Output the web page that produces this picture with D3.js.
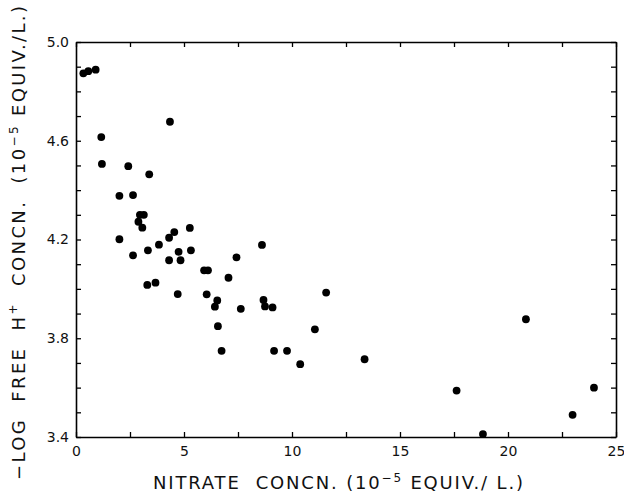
<!DOCTYPE html>
<html>
<head>
<meta charset="utf-8">
<script src="https://cdn.jsdelivr.net/npm/d3@7"></script>
<style>
    body { margin: 0; background: #fff; }
    svg { display: block; }
    .lbl { white-space: pre; }
</style>
</head>
<body>
<div id="chart"></div>
<script>
'use strict';

// nitrate concentration (10^-5 equiv/L)
const nitrate = [
    0.34, 0.57, 0.91, 1.17, 1.20, 4.35, 2.42, 3.39, 2.01, 2.64,
    2.96, 3.14, 2.89, 3.07, 2.01, 2.64, 3.33, 3.84, 4.31, 4.55,
    5.27, 4.75, 5.32, 4.31, 4.84, 5.93, 6.11, 7.06, 3.30, 3.68,
    4.71, 6.05, 6.54, 6.43, 7.63, 8.61, 7.43, 8.68, 8.75, 9.10,
    11.58, 6.57, 11.06, 6.74, 9.17, 9.77, 10.38, 13.36, 17.62, 18.84,
    20.83, 22.99, 23.98
];

// -log free H+ concentration
const negLogH = [
    4.873, 4.882, 4.888, 4.615, 4.506, 4.677, 4.497, 4.464, 4.377, 4.380,
    4.300, 4.300, 4.272, 4.248, 4.201, 4.136, 4.156, 4.179, 4.207, 4.230,
    4.247, 4.150, 4.156, 4.116, 4.116, 4.075, 4.075, 4.045, 4.016, 4.025,
    3.979, 3.978, 3.953, 3.928, 3.919, 4.178, 4.128, 3.955, 3.929, 3.925,
    3.985, 3.849, 3.836, 3.749, 3.749, 3.749, 3.695, 3.715, 3.588, 3.412,
    3.877, 3.490, 3.600
];

const xTicks = [0, 2.5, 5, 7.5, 10, 12.5, 15, 17.5, 20, 22.5, 25];
const xTickLabels = ["0", "", "5", "", "10", "", "15", "", "20", "", "25"];
const yTicks = [3.4, 3.5, 3.6, 3.7, 3.8, 3.9, 4.0, 4.1, 4.2, 4.3, 4.4, 4.5, 4.6, 4.7, 4.8, 4.9, 5.0];
const yTickLabels = ["3.4", "", "", "", "3.8", "", "", "", "4.2", "", "", "", "4.6", "", "", "", "5.0"];

const width = 624;
const height = 494;
const margin = { top: 42, right: 8, bottom: 57, left: 76 };
const fontFamily = "'DejaVu Sans', 'Liberation Sans', sans-serif";

const points = nitrate.map((x, i) => ({ x: x, y: negLogH[i] }));

const xScale = d3.scaleLinear().domain([0, 25]).range([margin.left, width - margin.right]);
const yScale = d3.scaleLinear().domain([3.4, 5.0]).range([height - margin.bottom, margin.top]);

const svg = d3.select("#chart")
    .append("svg")
    .attr("viewBox", [0, 0, width, height])
    .attr("width", width)
    .attr("height", height);

function styleAxis(g) {
    g.select(".domain").attr("stroke-width", 1.6);
    g.selectAll(".tick line").attr("stroke-width", 1.3);
    g.selectAll(".tick text")
        .attr("fill", "#111")
        .style("font-family", fontFamily)
        .style("font-size", "14px");
}

// ticks point inward on all four sides
svg.append("g")
    .attr("transform", `translate(0, ${yScale(3.4)})`)
    .call(d3.axisBottom(xScale).tickValues(xTicks).tickSizeInner(-5).tickSizeOuter(0).tickPadding(9)
        .tickFormat((d, i) => xTickLabels[i]))
    .call(styleAxis);

svg.append("g")
    .attr("transform", `translate(0, ${yScale(5.0)})`)
    .call(d3.axisTop(xScale).tickValues(xTicks).tickSizeInner(-5).tickSizeOuter(0).tickFormat(""))
    .call(styleAxis);

svg.append("g")
    .attr("transform", `translate(${xScale(0)}, 0)`)
    .call(d3.axisLeft(yScale).tickValues(yTicks).tickSizeInner(-5).tickSizeOuter(0).tickPadding(7)
        .tickFormat((d, i) => yTickLabels[i]))
    .call(styleAxis);

svg.append("g")
    .attr("transform", `translate(${xScale(25)}, 0)`)
    .call(d3.axisRight(yScale).tickValues(yTicks).tickSizeInner(-5).tickSizeOuter(0).tickFormat(""))
    .call(styleAxis);

svg.append("g")
    .attr("fill", "#000")
    .selectAll("circle")
    .data(points)
    .join("circle")
        .attr("cx", d => xScale(d.x))
        .attr("cy", d => yScale(d.y))
        .attr("r", 3.9);

// axis titles
const xTitle = svg.append("text")
    .attr("class", "lbl")
    .attr("x", 338)
    .attr("y", 489)
    .attr("text-anchor", "middle")
    .attr("textLength", 370)
    .attr("lengthAdjust", "spacing")
    .style("font-family", fontFamily)
    .style("font-size", "18px")
    .attr("fill", "#111");
xTitle.append("tspan").text("NITRATE  CONCN. (10");
xTitle.append("tspan").attr("dy", -7).style("font-size", "12px").text("\u22125");
xTitle.append("tspan").attr("dy", 7).text(" EQUIV./ L.)");

const yTitle = svg.append("text")
    .attr("class", "lbl")
    .attr("transform", "translate(25, 243) rotate(-90)")
    .attr("text-anchor", "middle")
    .attr("textLength", 474)
    .attr("lengthAdjust", "spacing")
    .style("font-family", fontFamily)
    .style("font-size", "18px")
    .attr("fill", "#111");
yTitle.append("tspan").text("\u2212LOG  FREE  H");
yTitle.append("tspan").attr("dy", -8).style("font-size", "12px").text("+");
yTitle.append("tspan").attr("dy", 8).text("  CONCN.  (10");
yTitle.append("tspan").attr("dy", -7).style("font-size", "12px").text("\u22125");
yTitle.append("tspan").attr("dy", 7).text(" EQUIV./L.)");
</script>
</body>
</html>
